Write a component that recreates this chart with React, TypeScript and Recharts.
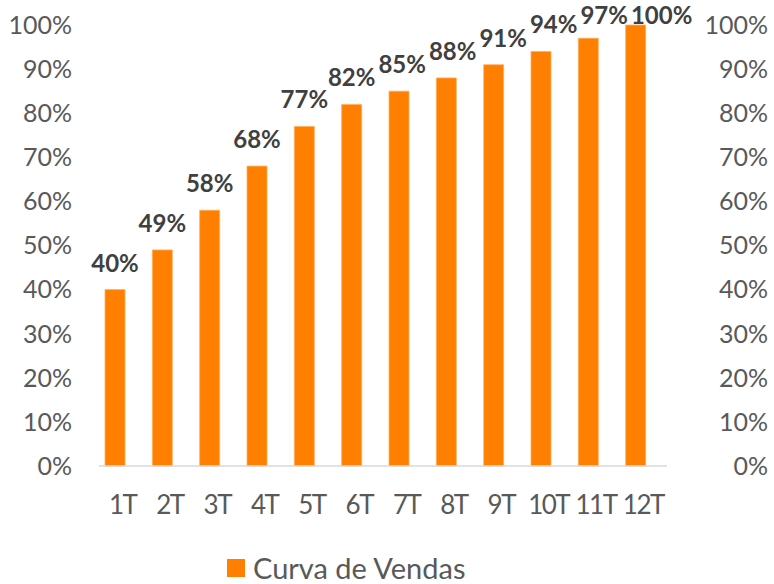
import React from 'react';
import { BarChart, Bar, XAxis, YAxis, Legend, Rectangle } from 'recharts';

// ---- data ----
const categories = ['1T', '2T', '3T', '4T', '5T', '6T', '7T', '8T', '9T', '10T', '11T', '12T'];
const salesCurve = [40, 49, 58, 68, 77, 82, 85, 88, 91, 94, 97, 100];
const yTicks = [0, 10, 20, 30, 40, 50, 60, 70, 80, 90, 100];
const seriesName = 'Curva de Vendas';

const data = categories.map((c, i) => ({ name: c, v: salesCurve[i] }));

// ---- layout / style ----
const W = 774;
const H = 584;
const LEFT_W = 99;
const RIGHT_W = 107;
const TOP = 25;
const XAXIS_H = 52;
const LEGEND_H = 66;
const ORANGE = '#FF7F00';
const ORANGE_EDGE = '#FFB060';
const LABEL_COLOR = '#404040';
const TICK_COLOR = '#595959';
const FONT = 'Lato, "Open Sans", sans-serif';
const BAR_SHIFT = -8;
const LABEL_FS = 24;
const TICK_FS = 25;
const XTICK_FS = 26;
const LEGEND_FS = 29;
const LABEL_MIN_BASELINE = 24;

let measureCtx: CanvasRenderingContext2D | null = null;
function measure(text: string, font: string): number {
  if (!measureCtx) {
    const c = document.createElement('canvas');
    measureCtx = c.getContext('2d');
  }
  if (!measureCtx) return text.length * 12;
  measureCtx.font = font;
  return measureCtx.measureText(text).width;
}

function BarWithLabel(props: any) {
  const { x, y, width, height, index } = props;
  const step = (W - LEFT_W - RIGHT_W) / categories.length;
  const vi = salesCurve[index];
  const pxPer = vi ? height / vi : 0;
  const font = `bold ${LABEL_FS}px Lato`;
  let prev: { right: number; baseline: number } | null = null;
  let cxFinal = 0;
  let baseFinal = 0;
  for (let j = 0; j <= index; j++) {
    const cx = x + width / 2 + BAR_SHIFT - (index - j) * step;
    const top = y + (vi - salesCurve[j]) * pxPer;
    const baseline = Math.max(top - 18, LABEL_MIN_BASELINE);
    const w = measure(`${salesCurve[j]}%`, font);
    let left = cx - w / 2;
    if (prev && Math.abs(prev.baseline - baseline) < 16 && left < prev.right + 3) {
      left = prev.right + 3;
    }
    prev = { right: left + w, baseline };
    cxFinal = left + w / 2;
    baseFinal = baseline;
  }
  return (
    <g>
      <Rectangle
        x={x + BAR_SHIFT}
        y={y}
        width={width}
        height={height}
        fill={ORANGE}
        stroke={ORANGE_EDGE}
        strokeWidth={0.8}
      />
      <text
        x={cxFinal}
        y={baseFinal}
        textAnchor="middle"
        fill={LABEL_COLOR}
        fontFamily={FONT}
        fontWeight="bold"
        fontSize={LABEL_FS}
      >
        {`${vi}%`}
      </text>
    </g>
  );
}

function RightTick(props: any) {
  const { x, y, payload } = props;
  return (
    <text
      x={x + 101}
      y={y}
      dy="0.355em"
      textAnchor="end"
      fill={TICK_COLOR}
      fontFamily={FONT}
      fontSize={TICK_FS}
    >
      {`${payload.value}%`}
    </text>
  );
}

function LegendContent() {
  return (
    <div style={{ position: 'relative', width: W, height: LEGEND_H }}>
      <div
        style={{
          position: 'absolute',
          left: 227,
          top: 35,
          height: 29,
          display: 'flex',
          alignItems: 'center',
        }}
      >
        <span style={{ display: 'inline-block', width: 18, height: 18, background: ORANGE, marginRight: 8 }} />
        <span style={{ fontFamily: FONT, fontSize: LEGEND_FS, lineHeight: '29px', color: TICK_COLOR, whiteSpace: 'nowrap' }}>
          {seriesName}
        </span>
      </div>
    </div>
  );
}

export default function App() {
  return (
    <div style={{ position: 'absolute', left: 0, top: 0, width: W, height: H, background: '#fff' }}>
      <BarChart width={W} height={H} data={data} margin={{ top: TOP, right: 0, bottom: 0, left: 0 }}>
        <XAxis
          dataKey="name"
          height={XAXIS_H}
          axisLine={{ stroke: '#D9D9D9', strokeWidth: 1.5 }}
          tickLine={false}
          tickSize={0}
          tickMargin={30}
          interval={0}
          tick={{ fill: TICK_COLOR, fontSize: XTICK_FS, fontFamily: FONT, letterSpacing: -1.5 }}
        />
        <YAxis
          yAxisId="left"
          domain={[0, 100]}
          ticks={yTicks}
          width={LEFT_W}
          axisLine={false}
          tickLine={false}
          tickSize={0}
          tickMargin={27}
          interval={0}
          tick={{ fill: TICK_COLOR, fontSize: TICK_FS, fontFamily: FONT }}
          tickFormatter={(v: number) => `${v}%`}
        />
        <YAxis
          yAxisId="right"
          orientation="right"
          domain={[0, 100]}
          allowDataOverflow
          ticks={yTicks}
          width={RIGHT_W}
          axisLine={false}
          tickLine={false}
          tickSize={0}
          tickMargin={0}
          interval={0}
          tick={<RightTick />}
        />
        <Legend
          verticalAlign="bottom"
          height={LEGEND_H}
          wrapperStyle={{ left: 0, bottom: 0, width: W, height: LEGEND_H }}
          content={() => <LegendContent />}
        />
        <Bar
          yAxisId="left"
          dataKey="v"
          name={seriesName}
          barSize={20}
          fill={ORANGE}
          shape={BarWithLabel}
          isAnimationActive={false}
        />
      </BarChart>
    </div>
  );
}
